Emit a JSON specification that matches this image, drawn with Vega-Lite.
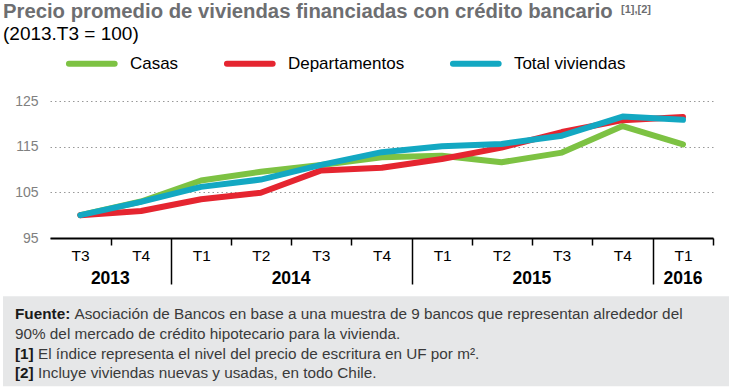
{
  "$schema": "https://vega.github.io/schema/vega-lite/v6.json",
  "background": "white",
  "padding": {"left": 3, "top": 2, "right": 0, "bottom": 3},
  "config": {"font": "Liberation Sans", "view": {"stroke": null}},
  "title": {"text": "[1],[2]", "anchor": "start", "dx": 618, "offset": -13, "fontSize": 11, "fontWeight": "bold", "color": "#6d6e71"},
  "spacing": 8.3,
  "datasets": {
    "indices": [
      {"fecha": "2013-07-01", "serie": "Casas", "valor": 100},
      {"fecha": "2013-10-01", "serie": "Casas", "valor": 103},
      {"fecha": "2014-01-01", "serie": "Casas", "valor": 107.6},
      {"fecha": "2014-04-01", "serie": "Casas", "valor": 109.5},
      {"fecha": "2014-07-01", "serie": "Casas", "valor": 111},
      {"fecha": "2014-10-01", "serie": "Casas", "valor": 112.7},
      {"fecha": "2015-01-01", "serie": "Casas", "valor": 113},
      {"fecha": "2015-04-01", "serie": "Casas", "valor": 111.6},
      {"fecha": "2015-07-01", "serie": "Casas", "valor": 113.7},
      {"fecha": "2015-10-01", "serie": "Casas", "valor": 119.5},
      {"fecha": "2016-01-01", "serie": "Casas", "valor": 115.5},
      {"fecha": "2013-07-01", "serie": "Departamentos", "valor": 100},
      {"fecha": "2013-10-01", "serie": "Departamentos", "valor": 100.9},
      {"fecha": "2014-01-01", "serie": "Departamentos", "valor": 103.5},
      {"fecha": "2014-04-01", "serie": "Departamentos", "valor": 104.9},
      {"fecha": "2014-07-01", "serie": "Departamentos", "valor": 109.8},
      {"fecha": "2014-10-01", "serie": "Departamentos", "valor": 110.4},
      {"fecha": "2015-01-01", "serie": "Departamentos", "valor": 112.3},
      {"fecha": "2015-04-01", "serie": "Departamentos", "valor": 114.8},
      {"fecha": "2015-07-01", "serie": "Departamentos", "valor": 118.2},
      {"fecha": "2015-10-01", "serie": "Departamentos", "valor": 120.8},
      {"fecha": "2016-01-01", "serie": "Departamentos", "valor": 121.5},
      {"fecha": "2013-07-01", "serie": "Total viviendas", "valor": 100},
      {"fecha": "2013-10-01", "serie": "Total viviendas", "valor": 102.9},
      {"fecha": "2014-01-01", "serie": "Total viviendas", "valor": 106.2},
      {"fecha": "2014-04-01", "serie": "Total viviendas", "valor": 107.8},
      {"fecha": "2014-07-01", "serie": "Total viviendas", "valor": 111},
      {"fecha": "2014-10-01", "serie": "Total viviendas", "valor": 113.8},
      {"fecha": "2015-01-01", "serie": "Total viviendas", "valor": 115.1},
      {"fecha": "2015-04-01", "serie": "Total viviendas", "valor": 115.6},
      {"fecha": "2015-07-01", "serie": "Total viviendas", "valor": 117.4},
      {"fecha": "2015-10-01", "serie": "Total viviendas", "valor": 121.6},
      {"fecha": "2016-01-01", "serie": "Total viviendas", "valor": 120.9}
    ],
    "notas": [
      {"linea": 1, "prefijo": "Fuente:", "texto": "Asociación de Bancos en base a una muestra de 9 bancos que representan alrededor del"},
      {"linea": 2, "prefijo": "", "texto": "90% del mercado de crédito hipotecario para la vivienda."},
      {"linea": 3, "prefijo": "[1]", "texto": "El índice representa el nivel del precio de escritura en UF por m²."},
      {"linea": 4, "prefijo": "[2]", "texto": "Incluye viviendas nuevas y usadas, en todo Chile."}
    ]
  },
  "vconcat": [
    {
      "title": {
        "text": "Precio promedio de viviendas financiadas con crédito bancario",
        "subtitle": "(2013.T3 = 100)",
        "anchor": "start",
        "fontSize": 20.3,
        "fontWeight": "bold",
        "color": "#6d6e71",
        "subtitleFontSize": 19,
        "subtitleColor": "#000000",
        "subtitlePadding": 3,
        "offset": 49.5
      },
      "width": 710,
      "height": 137,
      "data": {"name": "indices"},
      "layer": [
        {
          "mark": {"type": "line", "strokeWidth": 6, "strokeCap": "round", "strokeJoin": "round"},
          "encoding": {
            "x": {
              "field": "fecha",
              "timeUnit": "utcyearquarter",
              "type": "temporal",
              "bandPosition": 0.5,
              "scale": {"type": "utc", "domain": [{"year": 2013, "month": 7, "date": 1, "utc": true}, {"year": 2016, "month": 4, "date": 1, "utc": true}], "nice": false, "range": [47, 710]},
              "axis": {
                "title": null,
                "grid": false,
                "tickCount": {"interval": "month", "step": 3},
                "labelExpr": "datum.index == 1 ? '' : 'T' + (floor(utcmonth(datum.value) / 3) + 1)",
                "labelOffset": 30,
                "labelFontSize": 15.5,
                "labelColor": "#000000",
                "labelPadding": {"condition": {"test": "utcmonth(datum.value) == 0", "value": -36}, "value": 3},
                "labelFlush": false,
                "labelOverlap": false,
                "labelBound": false,
                "domainColor": "#000000",
                "domainWidth": 2,
                "tickColor": "#000000",
                "tickWidth": 1.5,
                "tickSize": {"condition": {"test": "utcmonth(datum.value) == 0", "value": 46}, "value": 7},
                "tickOpacity": {"condition": {"test": "datum.index == 0", "value": 0}, "value": 1}
              }
            },
            "y": {
              "field": "valor",
              "type": "quantitative",
              "scale": {"domain": [95, 125], "nice": false, "zero": false},
              "axis": {
                "title": null,
                "values": [95, 105, 115, 125],
                "domain": false,
                "ticks": false,
                "tickSize": 0,
                "labelColor": "#808080",
                "labelFontSize": 14,
                "labelAlign": "right",
                "labelPadding": -35,
                "gridDash": [1.5, 3],
                "gridColor": "#999999",
                "gridWidth": 1.2,
                "minExtent": 0,
                "maxExtent": 0
              }
            },
            "color": {
              "field": "serie",
              "type": "nominal",
              "scale": {"domain": ["Casas", "Departamentos", "Total viviendas"], "range": ["#7dc243", "#e52530", "#13a8c2"]},
              "legend": {
                "orient": "none",
                "legendX": 80.3,
                "legendY": -46,
                "direction": "horizontal",
                "title": null,
                "symbolType": "M-5,0H5",
                "symbolSize": 83.5,
                "symbolStrokeWidth": 6,
                "labelFontSize": 17,
                "labelColor": "#000000",
                "labelOffset": 29.6,
                "columnPadding": 36,
                "padding": 0,
                "encode": {"symbols": {"update": {"strokeCap": {"value": "round"}}}}
              }
            }
          }
        },
        {
          "mark": {"type": "text", "fontSize": 17.5, "fontWeight": "bold", "dx": 30, "dy": 46.3, "baseline": "alphabetic", "align": "center", "color": "#000000"},
          "encoding": {
            "x": {"field": "fecha", "aggregate": "mean", "type": "temporal", "scale": {"type": "utc", "domain": [{"year": 2013, "month": 7, "date": 1, "utc": true}, {"year": 2016, "month": 4, "date": 1, "utc": true}], "nice": false, "range": [47, 710]}},
            "y": {"datum": 95, "type": "quantitative", "scale": {"domain": [95, 125], "nice": false, "zero": false}},
            "text": {"field": "fecha", "timeUnit": "utcyear", "type": "temporal", "format": "%Y"}
          }
        }
      ]
    },
    {
      "width": 726,
      "height": 90,
      "view": {"fill": "#e6e7e8", "stroke": null},
      "data": {"name": "notas"},
      "encoding": {
        "y": {"field": "linea", "type": "ordinal", "axis": null, "scale": {"type": "point", "padding": 0, "range": [23, 82]}}
      },
      "layer": [
        {
          "mark": {"type": "text", "align": "left", "baseline": "alphabetic", "fontSize": 15.3, "fontWeight": "bold", "color": "#1a1a1a", "x": 12},
          "encoding": {"text": {"field": "prefijo"}}
        },
        {
          "transform": [{"filter": "datum.prefijo == 'Fuente:'"}],
          "mark": {"type": "text", "align": "left", "baseline": "alphabetic", "fontSize": 15.3, "color": "#3a3a3a", "x": 12, "dx": 59.5},
          "encoding": {"text": {"field": "texto"}}
        },
        {
          "transform": [{"filter": "datum.prefijo == ''"}],
          "mark": {"type": "text", "align": "left", "baseline": "alphabetic", "fontSize": 15.3, "color": "#3a3a3a", "x": 12},
          "encoding": {"text": {"field": "texto"}}
        },
        {
          "transform": [{"filter": "datum.prefijo == '[1]' || datum.prefijo == '[2]'"}],
          "mark": {"type": "text", "align": "left", "baseline": "alphabetic", "fontSize": 15.3, "color": "#3a3a3a", "x": 12, "dx": 23},
          "encoding": {"text": {"field": "texto"}}
        }
      ]
    }
  ]
}
